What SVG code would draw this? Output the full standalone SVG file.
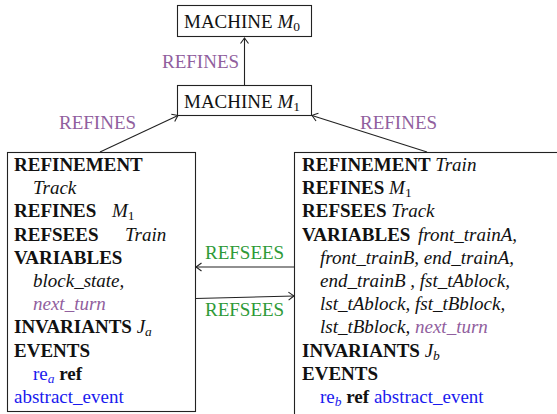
<svg xmlns="http://www.w3.org/2000/svg" width="557" height="414" viewBox="0 0 557 414">
<defs>
<style>
text{font-family:"Liberation Serif","Times New Roman",serif;font-size:19px;fill:#111}
.b{font-weight:bold}
.i{font-style:italic}
.sub{font-size:13.5px}
.pur{fill:#915f9e}
.grn{fill:#2e9a38}
.blu{fill:#1a1aee}
.box{fill:#fff;stroke:#222;stroke-width:1.1}
.edge{fill:none;stroke:#222;stroke-width:1.1}
</style>
<marker id="ah" markerWidth="12" markerHeight="12" refX="0" refY="0" viewBox="-8 -6 10 12" orient="auto" markerUnits="userSpaceOnUse">
<path d="M-5.5,-4 Q-1.5,-1 0,0 Q-1.5,1 -5.5,4" fill="none" stroke="#222" stroke-width="1.1"/>
</marker>
</defs>
<rect width="557" height="414" fill="#fff"/>
<g id="connectors">
<line class="edge" x1="244.5" y1="85" x2="244.5" y2="38" marker-end="url(#ah)"/>
<text x="162" y="68" class="pur">REFINES</text>
<line class="edge" x1="100" y1="152" x2="178" y2="115.5" marker-end="url(#ah)"/>
<text x="59" y="129" class="pur">REFINES</text>
<line class="edge" x1="427" y1="152" x2="312" y2="115.5" marker-end="url(#ah)"/>
<text x="360" y="129" class="pur">REFINES</text>
<line class="edge" x1="294.5" y1="267" x2="196" y2="267" marker-end="url(#ah)"/>
<text x="205" y="259" class="grn">REFSEES</text>
<line class="edge" x1="195.5" y1="298.5" x2="294" y2="296" marker-end="url(#ah)"/>
<text x="205" y="316" class="grn">REFSEES</text>
</g>
<g id="m0">
<rect class="box" x="177.5" y="5.5" width="134" height="31"/>
<text x="184" y="28">MACHINE <tspan class="i">M</tspan><tspan class="sub" dy="3">0</tspan></text>
</g>
<g id="m1">
<rect class="box" x="177.5" y="85.5" width="134" height="30"/>
<text x="184" y="108">MACHINE <tspan class="i">M</tspan><tspan class="sub" dy="3">1</tspan></text>
</g>
<g id="track">
<rect class="box" x="7.5" y="152.5" width="188" height="259"/>
<text x="14" y="171" class="b">REFINEMENT</text>
<text x="33" y="194.2" class="i">Track</text>
<text x="14" y="217.4"><tspan class="b">REFINES</tspan><tspan x="112" class="i">M</tspan><tspan class="sub" dy="3">1</tspan></text>
<text x="14" y="240.6"><tspan class="b">REFSEES</tspan><tspan x="125" class="i">Train</tspan></text>
<text x="14" y="263.8" class="b">VARIABLES</text>
<text x="33" y="287" class="i">block_state,</text>
<text x="33" y="310.2" class="i pur">next_turn</text>
<text x="14" y="333.4"><tspan class="b">INVARIANTS </tspan><tspan class="i">J</tspan><tspan class="i sub" dy="3">a</tspan></text>
<text x="14" y="356.6" class="b">EVENTS</text>
<text x="33" y="379.8"><tspan class="blu">re</tspan><tspan class="i sub blu" dy="3">a</tspan><tspan class="b" dy="-3"> ref</tspan></text>
<text x="14" y="403" class="blu">abstract_event</text>
</g>
<g id="train">
<rect class="box" x="294.5" y="152.5" width="300" height="300"/>
<text x="302" y="171"><tspan class="b">REFINEMENT </tspan><tspan class="i">Train</tspan></text>
<text x="302" y="194.2"><tspan class="b">REFINES </tspan><tspan class="i">M</tspan><tspan class="sub" dy="3">1</tspan></text>
<text x="302" y="217.4"><tspan class="b">REFSEES </tspan><tspan class="i">Track</tspan></text>
<text x="302" y="240.6"><tspan class="b">VARIABLES</tspan><tspan class="i" x="418">front_trainA,</tspan></text>
<text x="320" y="263.8" class="i">front_trainB, end_trainA,</text>
<text x="320" y="287" class="i">end_trainB , fst_tAblock,</text>
<text x="320" y="310.2" class="i">lst_tAblock, fst_tBblock,</text>
<text x="320" y="333.4" class="i">lst_tBblock, <tspan class="pur">next_turn</tspan></text>
<text x="302" y="356.6"><tspan class="b">INVARIANTS </tspan><tspan class="i">J</tspan><tspan class="i sub" dy="3">b</tspan></text>
<text x="302" y="379.8" class="b">EVENTS</text>
<text x="320" y="403"><tspan class="blu">re</tspan><tspan class="i sub blu" dy="3">b</tspan><tspan class="b" dy="-3"> ref </tspan><tspan class="blu">abstract_event</tspan></text>
</g>
</svg>
